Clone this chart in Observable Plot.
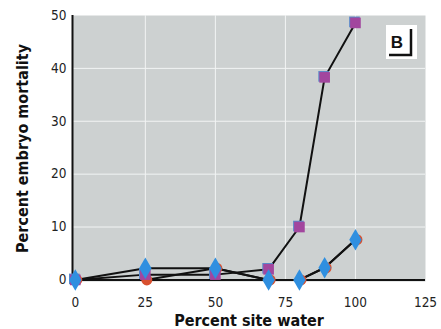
<!DOCTYPE html>
<html>
<head>
<meta charset="utf-8">
<script src="https://cdn.jsdelivr.net/npm/d3@7"></script>
<script src="https://cdn.jsdelivr.net/npm/@observablehq/plot@0.6"></script>
<style>
  html, body { margin: 0; padding: 0; background: #ffffff; }
  #chart svg { display: block; }
  #chart svg text { font-stretch: condensed; }
  #chart g[aria-label="x-axis label"] text,
  #chart g[aria-label="y-axis label"] text { font-weight: bold; font-size: 16px; fill: #111; }
  #chart g[aria-label="x-axis tick label"] text,
  #chart g[aria-label="y-axis tick label"] text { font-size: 13.5px; fill: #222; }
</style>
</head>
<body>
<div id="chart"></div>
<script>
// Percent site water tested
const water = [0, 25, 50, 69, 80, 89, 100];
// Percent embryo mortality, one array per treatment
const squares = [0, 1, 1, 2, 10, 38.3, 48.6];
const diamonds = [0, 2.2, 2.2, 0, 0, 2.3, 7.6];
const circles = [0, 0, 2.2, 0, 0, 2.3, 7.6];
// Axis ticks
const xTicks = [0, 25, 50, 75, 100, 125];
const yTicks = [0, 10, 20, 30, 40, 50];
const xDomain = [-1, 125];
const yDomain = [-0.3, 50];

const rows = (ys) => water.map((w, i) => ({water: w, mortality: ys[i]}));
const sq = rows(squares), di = rows(diamonds), ci = rows(circles);

const lineOpts = {x: "water", y: "mortality", stroke: "#111", strokeWidth: 2};
const narrow = '"DejaVu Sans Condensed", "DejaVu Sans", sans-serif';

const plot = Plot.plot({
  width: 441,
  height: 329,
  marginLeft: 72,
  marginRight: 16,
  marginTop: 15,
  marginBottom: 48,
  style: {fontFamily: narrow, background: "#ffffff"},
  x: {domain: xDomain},
  y: {domain: yDomain},
  marks: [
    Plot.frame({fill: "#cdd1d1", stroke: null}),
    Plot.gridX(xTicks.slice(1, -1), {stroke: "#f2f4f4", strokeOpacity: 1, strokeWidth: 1}),
    Plot.gridY(yTicks.slice(1, -1), {stroke: "#f2f4f4", strokeOpacity: 1, strokeWidth: 1}),
    Plot.ruleY([0], {stroke: "#111", strokeWidth: 2}),
    Plot.ruleX([xDomain[0]], {stroke: "#111", strokeWidth: 2}),
    Plot.line(ci, lineOpts),
    Plot.line(sq, lineOpts),
    Plot.line(di, lineOpts),
    // circles
    Plot.dot(ci, {x: "water", y: "mortality", symbol: "circle", r: 5.5, fill: "#d8502f", dx: 1.5}),
    // squares with slight blue offset edge
    Plot.dot(sq, {x: "water", y: "mortality", symbol: "square", r: 6, fill: "#5a86c8", dx: -1, dy: -1}),
    Plot.dot(sq, {x: "water", y: "mortality", symbol: "square", r: 6, fill: "#a2469e"}),
    // diamonds
    Plot.dot(di, {x: "water", y: "mortality", symbol: "diamond", r: 6.5, fill: "#2f8fe0"}),
    Plot.axisX({ticks: xTicks, tickSize: 0, tickPadding: 16, label: "Percent site water", labelAnchor: "center", labelArrow: "none", labelOffset: 44}),
    Plot.axisY({ticks: yTicks, tickSize: 0, tickPadding: 6, label: "Percent embryo mortality", labelAnchor: "center", labelArrow: "none", labelOffset: 56})
  ]
});

document.getElementById("chart").append(plot);

// Panel letter "B" with corner bracket
const svg = d3.select(plot);
const g = svg.append("g").attr("transform", "translate(386,25)");
g.append("rect").attr("width", 31).attr("height", 34).attr("fill", "#ffffff");
g.append("text").attr("x", 11).attr("y", 23).attr("text-anchor", "middle")
  .attr("font-family", "Liberation Sans, Arial, sans-serif").attr("font-weight", "bold")
  .attr("font-size", 17).attr("fill", "#111").text("B");
g.append("path").attr("d", "M3,30H25V4").attr("fill", "none").attr("stroke", "#111").attr("stroke-width", 2.5);
</script>
</body>
</html>
